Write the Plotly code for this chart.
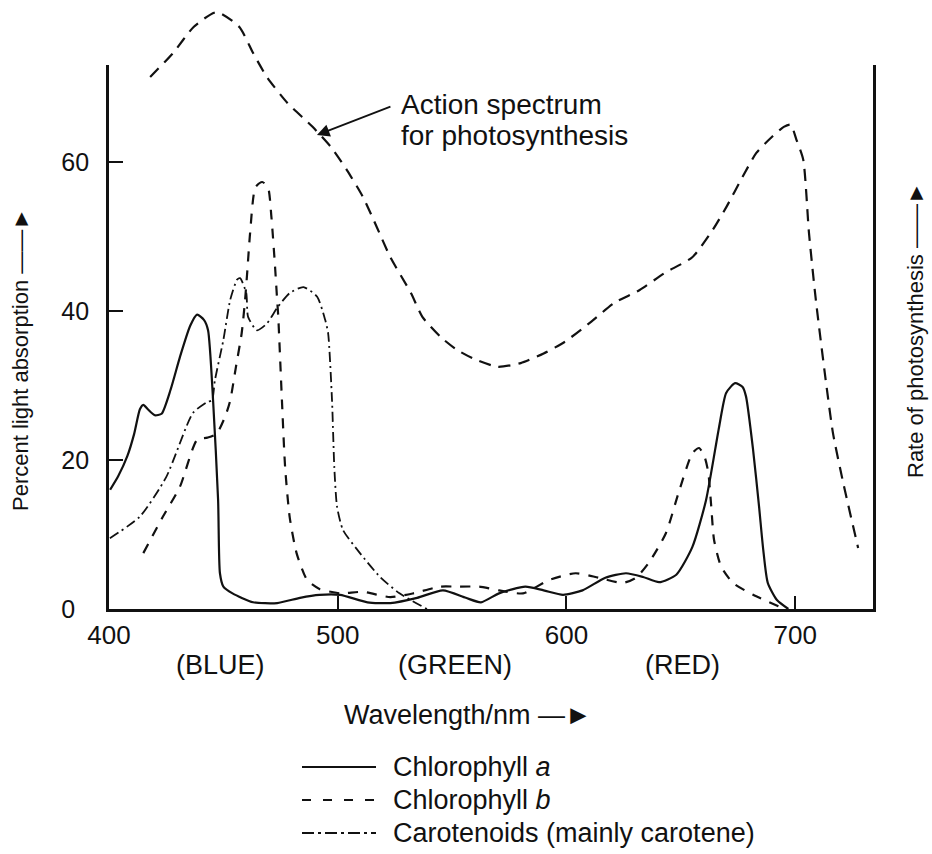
import plotly.graph_objects as go

# ---------------- data ----------------
action_nm = [418, 428, 437, 447, 457, 463, 469, 478, 489, 497, 504, 511, 517, 523, 532, 537,
             545, 552, 560, 570, 580, 590, 599, 611, 621, 632, 643, 655, 664, 670, 677, 683,
             690, 695, 698, 700.5, 703.5, 706, 709, 713.5, 716.5, 721, 727.5]
action_val = [71.4, 74.6, 78.1, 80.1, 78.1, 74.6, 71.4, 67.9, 64.7, 62.0, 58.9, 55.3, 51.3, 47.2, 42.4, 39.2,
              36.5, 34.8, 33.5, 32.5, 33.0, 34.3, 35.8, 38.6, 41.1, 42.8, 45.1, 47.2, 50.9, 54.0, 58.0, 61.2,
              63.4, 64.7, 65.0, 63.0, 60.3, 50.5, 41.5, 30.3, 23.6, 16.9, 8.2]

chla_nm = [400.5, 404, 408, 411, 413.5, 415, 417, 420, 423, 427, 431, 435.5, 438.5, 441.5, 443.3, 445.5,
           447.7, 448.5, 450, 454, 463, 473.5, 483.5, 492, 501, 513, 523, 534.7, 546, 556, 562.6, 570.5,
           582, 590, 598.5, 607, 617, 626, 633.5, 640.5, 648, 655, 661, 666.7, 669.8, 673.7, 677,
           678.5, 681.6, 684.2, 686, 688, 692, 697]
chla_val = [16.0, 17.8, 20.5, 23.5, 26.8, 27.4, 26.8, 26.0, 26.2, 29.5, 33.8, 38.0, 39.5, 38.8, 37.4, 28.0,
            14.6, 4.8, 3.0, 2.1, 0.9, 0.8, 1.5, 1.9, 1.9, 0.9, 0.8, 1.5, 2.5, 1.5, 0.9, 2.1,
            3.0, 2.5, 1.9, 2.5, 4.2, 4.8, 4.3, 3.6, 4.6, 8.3, 14.6, 24.4, 29.0, 30.3, 29.8,
            28.5, 21.3, 13.7, 8.0, 3.5, 1.2, 0.0]

chlb_nm = [415, 423.6, 431, 438.5, 443, 447, 451, 453, 455.5, 458, 459.5, 460.5, 461.7, 464, 467,
           469.5, 471, 472.6, 473.5, 474, 475.6, 477, 479, 482, 486.6, 492, 501, 511, 523, 533,
           544.7, 553, 561.8, 570.5, 581, 592.4, 604, 614, 624.7, 630.4, 636, 643.5, 649, 655,
           658, 660.5, 662, 663.3, 664.5, 667.6, 672.8, 681.6, 694.7]
chlb_val = [7.5, 12.4, 16.4, 22.7, 23.0, 23.5, 26.0, 28.0, 32.5, 37.0, 41.5, 45.5, 50.5, 56.6, 57.3,
            56.6, 52.6, 45.9, 41.5, 39.2, 28.0, 19.0, 12.3, 7.5, 3.9, 2.7, 2.1, 2.3, 1.6, 2.1,
            3.0, 3.0, 3.0, 2.5, 2.1, 3.9, 4.8, 4.2, 3.5, 4.2, 6.2, 10.2, 15.6, 20.9,
            21.6, 20.3, 18.3, 13.7, 9.3, 5.7, 3.5, 1.9, 0.1]

car_nm = [400.4, 413.5, 425, 436.7, 443, 445, 446.3, 450, 453, 456, 457.3, 460, 460.8, 464.7, 469,
          473.5, 479, 485, 491, 494.5, 495.8, 497.5, 498.5, 499.7, 502.3, 509.7, 518.5, 527, 539]
car_val = [9.5, 12.4, 17.7, 26.3, 27.8, 28.0, 30.7, 36.1, 41.5, 44.2, 44.4, 42.4, 39.2, 37.4, 38.3,
           40.4, 42.4, 43.2, 41.9, 38.8, 37.0, 28.0, 19.0, 13.7, 10.6, 7.5, 4.3, 2.1, 0.0]

x_ticks = [400, 500, 600, 700]
y_ticks = [0, 20, 40, 60]
y_ticktext = ["0\u00a0\u00a0", "20", "40", "60"]

band_labels = ["(BLUE)", "(GREEN)", "(RED)"]
legend_labels = ["Chlorophyll <i>a</i>", "Chlorophyll <i>b</i>", "Carotenoids (mainly carotene)"]

# ---------------- styling ----------------
FONT = "Liberation Sans"
BLACK = "#111111"
DASH_ACTION = "12px,8px"
DASH_B = "10px,9px"
DASH_CAR = "10px,4px,2px,4px"
LEG_DASHES = ["solid", "9px,12px", "12px,4px,3px,4px"]

W, H = 932, 854
L, R, T, B = 109, 59, 5, 245
PW, PH = W - L - R, H - T - B          # plot area 764 x 604 px
AX_TOP = 65                              # where the drawn axes stop (px from top)
Y_MAX = 73.0
PX_PER_UNIT = (H - B - AX_TOP) / Y_MAX
Y2_MAX = PH / PX_PER_UNIT                # same scale, taller so the action spectrum is not clipped


def px(xp):
    return (xp - L) / PW


def py(yp):
    return (H - B - yp) / PH


fig = go.Figure()
fig.add_trace(go.Scatter(x=chla_nm, y=chla_val, mode="lines", name="Chlorophyll a",
                         line=dict(color=BLACK, width=2.2, shape="spline", smoothing=0.6)))
fig.add_trace(go.Scatter(x=chlb_nm, y=chlb_val, mode="lines", name="Chlorophyll b",
                         line=dict(color=BLACK, width=2.2, dash=DASH_B, shape="spline", smoothing=0.6)))
fig.add_trace(go.Scatter(x=car_nm, y=car_val, mode="lines", name="Carotenoids",
                         line=dict(color=BLACK, width=1.8, dash=DASH_CAR, shape="spline", smoothing=0.6)))
fig.add_trace(go.Scatter(x=action_nm, y=action_val, mode="lines", name="Action spectrum", yaxis="y2",
                         line=dict(color=BLACK, width=2.2, dash=DASH_ACTION, shape="spline", smoothing=0.6)))

annotations = []
for lab, cx in zip(band_labels, [220, 455, 682]):
    annotations.append(dict(text=lab, x=px(cx), y=py(665), xref="paper", yref="paper",
                            showarrow=False, xanchor="center", yanchor="middle",
                            font=dict(family=FONT, size=27, color=BLACK)))
annotations.append(dict(text="Wavelength/nm —►", x=px(342), y=py(715), xref="paper", yref="paper",
                        showarrow=False, xanchor="left", yanchor="middle",
                        font=dict(family=FONT, size=27, color=BLACK)))
annotations.append(dict(text="Percent light absorption ——►", x=px(21), y=py(360), xref="paper", yref="paper",
                        showarrow=False, textangle=-90, xanchor="center", yanchor="middle",
                        font=dict(family=FONT, size=22, color=BLACK)))
annotations.append(dict(text="Rate of photosynthesis ——►", x=px(915), y=py(330), xref="paper", yref="paper",
                        showarrow=False, textangle=-90, xanchor="center", yanchor="middle",
                        font=dict(family=FONT, size=22, color=BLACK)))
annotations.append(dict(text="Action spectrum", x=px(399), y=py(105), xref="paper", yref="paper",
                        showarrow=False, xanchor="left", yanchor="middle",
                        font=dict(family=FONT, size=28, color=BLACK)))
annotations.append(dict(text="for photosynthesis", x=px(399), y=py(135), xref="paper", yref="paper",
                        showarrow=False, xanchor="left", yanchor="middle",
                        font=dict(family=FONT, size=28, color=BLACK)))
annotations.append(dict(text="", x=490.9, y=63.6, xref="x", yref="y", showarrow=True,
                        ax=75, ay=-29, arrowhead=2, arrowsize=1.4, arrowwidth=1.8, arrowcolor=BLACK))

shapes = []
for i, (lab, dsh) in enumerate(zip(legend_labels, LEG_DASHES)):
    yy = [767, 800, 833][i]
    shapes.append(dict(type="line", xref="paper", yref="paper", x0=px(302), x1=px(376),
                       y0=py(yy), y1=py(yy), line=dict(color=BLACK, width=2.2, dash=dsh)))
    annotations.append(dict(text=lab, x=px(391), y=py(yy), xref="paper", yref="paper",
                            showarrow=False, xanchor="left", yanchor="middle",
                            font=dict(family=FONT, size=27, color=BLACK)))

fig.update_layout(
    width=W, height=H,
    margin=dict(l=L, r=R, t=T, b=B),
    paper_bgcolor="white", plot_bgcolor="rgba(0,0,0,0)",
    showlegend=False,
    font=dict(family=FONT, color=BLACK),
    xaxis=dict(range=[400, 734], tickvals=x_ticks, showline=True, linecolor=BLACK, linewidth=2.8,
               ticks="inside", ticklen=13, tickwidth=2, tickcolor=BLACK, showgrid=False, zeroline=False,
               tickfont=dict(family=FONT, size=26, color=BLACK), ticklabelstandoff=1, anchor="y"),
    yaxis=dict(domain=[0, (H - B - AX_TOP) / PH], range=[0, Y_MAX], tickvals=y_ticks, ticktext=y_ticktext,
               showline=True, mirror=True, linecolor=BLACK, linewidth=2.8, ticks="inside", ticklen=14,
               tickwidth=2, tickcolor=BLACK, showgrid=False, zeroline=False,
               tickfont=dict(family=FONT, size=25, color=BLACK), ticklabelstandoff=12),
    yaxis2=dict(domain=[0, 1], range=[0, Y2_MAX], anchor="x", visible=False, showgrid=False, zeroline=False),
    annotations=annotations,
    shapes=shapes,
)

fig.write_html("out.html")
